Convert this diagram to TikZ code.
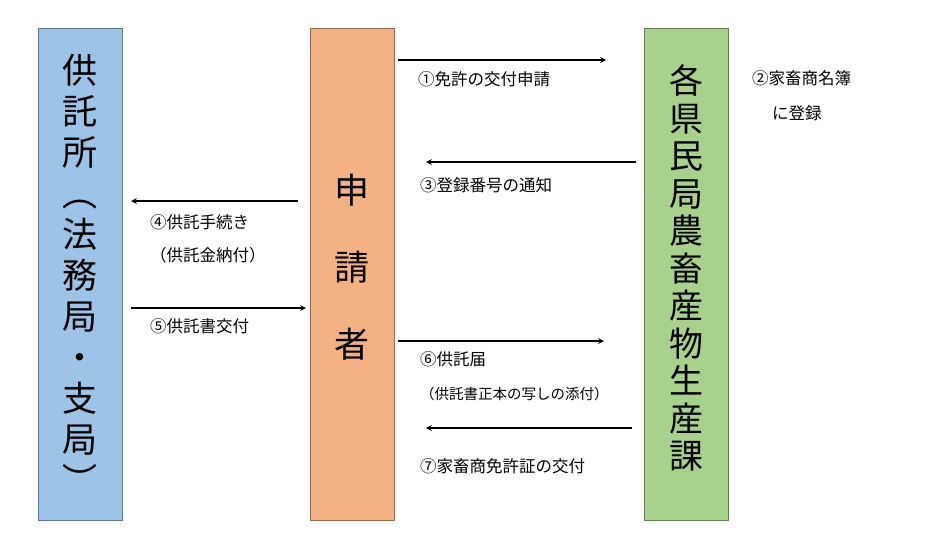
\documentclass[tikz,border=0pt]{standalone}
\usepackage{fontspec}
\setmainfont{Noto Sans CJK JP}
\usetikzlibrary{positioning}
\definecolor{lblue}{HTML}{9DC3E6}
\definecolor{lorange}{HTML}{F4B183}
\definecolor{lgreen}{HTML}{A9D18E}
\tikzset{office/.style={rectangle,draw=#1!60!black,fill=#1,line width=1,minimum width=84,minimum height=492,inner sep=0pt}}
\tikzset{flow/.style={->,>=stealth,line width=1.6}}
\tikzset{lbl/.style={anchor=west,font=\fontsize{16.5}{16.5}\selectfont,inner sep=0pt}}
\tikzset{big/.style={font=\fontsize{35}{35}\selectfont,inner sep=0pt,text height=0.8em,text depth=0.1em}}
\begin{document}
\begin{tikzpicture}[x=1pt,y=-1pt]
	\useasboundingbox (0,0) rectangle (951,557);
	% boxes
	\node [office=lblue] (depot) at (80,274) {};
	\node [office=lorange] (appl) at (352,274) {};
	\node [office=lgreen] (dept) at (686,274) {};

	\foreach \c [count=\i] in {供,託,所,︵,法,務,局,・,支,局,︶}
		\node [big] (d\i) at (80,{80+41*(\i-1)}) {\c};
	\foreach \c [count=\i] in {申,請,者}
		\node [big] (a\i) at (352,{200+77*(\i-1)}) {\c};
	\foreach \c [count=\i] in {各,県,民,局,農,畜,産,物,生,産,課}
		\node [big,font=\fontsize{34}{34}\selectfont] (k\i) at (686,{90+37.5*(\i-1)}) {\c};

	% connector ends
	\coordinate (s1) at (398,60);  \coordinate (e1) at (606,60);
	\coordinate (s3) at (636,162); \coordinate (e3) at (426,162);
	\coordinate (s4) at (298,201); \coordinate (e4) at (131,201);
	\coordinate (s5) at (131,308); \coordinate (e5) at (306,308);
	\coordinate (s6) at (398,341); \coordinate (e6) at (604,341);
	\coordinate (s7) at (632,428); \coordinate (e7) at (426,428);
	\foreach \n in {1,3,4,5,6,7}
		\draw [flow] (s\n) to (e\n);

	% labels
	\node [lbl] (l1) at (418,79) {①免許の交付申請};
	\node [lbl] (l2) at (752,78) {②家畜商名簿};
	\node [lbl] (l2b) at (772,113) {に登録};
	\node [lbl] (l3) at (420,185) {③登録番号の通知};
	\node [lbl] (l4) at (150,222) {④供託手続き};
	\node [lbl] (l4b) at (150,255) {（供託金納付）};
	\node [lbl] (l5) at (150,326) {⑤供託書交付};
	\node [lbl] (l6) at (420,359) {⑥供託届};
	\node [lbl,font=\fontsize{14.5}{14.5}\selectfont] (l6b) at (420,394) {（供託書正本の写しの添付）};
	\node [lbl] (l7) at (420,466) {⑦家畜商免許証の交付};
\end{tikzpicture}
\end{document}
